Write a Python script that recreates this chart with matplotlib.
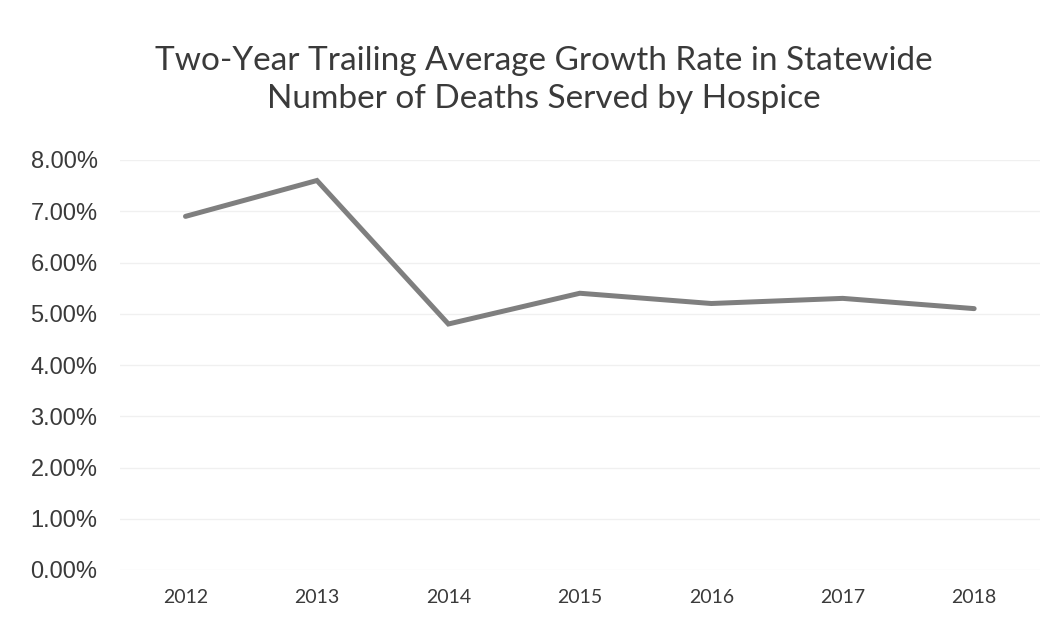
import matplotlib
matplotlib.use("Agg")
import matplotlib.pyplot as plt
from matplotlib.ticker import PercentFormatter

# --------- Дані ---------
years = ["2012", "2013", "2014", "2015", "2016", "2017", "2018"]
growth = [6.9, 7.6, 4.8, 5.4, 5.2, 5.3, 5.1]
y_ticks = [0, 1, 2, 3, 4, 5, 6, 7, 8]

fig = plt.figure(figsize=(10.6, 6.25), dpi=100)
ax = fig.add_axes([0.113, 0.088, 0.868, 0.656])

x = list(range(len(years)))
ax.plot(x, growth, color="#7f7f7f", linewidth=3.6, solid_capstyle="round", solid_joinstyle="miter")

ax.set_xlim(-0.5, len(years) - 0.5)
ax.set_ylim(0, 8)
ax.set_yticks(y_ticks)
ax.yaxis.set_major_formatter(PercentFormatter(decimals=2))
ax.set_xticks(x)
ax.set_xticklabels(years, fontsize=14, family="Lato", color="#3a3a3a")
for lab in ax.get_yticklabels():
    lab.set_fontsize(17)
    lab.set_family("Liberation Sans")
    lab.set_color("#3a3a3a")

ax.grid(axis="y", color="#f0f0f0", linewidth=1)
ax.set_axisbelow(True)
for s in ax.spines.values():
    s.set_visible(False)
ax.tick_params(axis="y", length=0, pad=16)
ax.tick_params(axis="x", length=0, pad=14)

fig.text(0.513, 0.872, "Two-Year Trailing Average Growth Rate in Statewide\nNumber of Deaths Served by Hospice",
         ha="center", va="center", fontsize=24, family="Lato", color="#3a3a3a", linespacing=1.3)

fig.savefig("out.png", dpi=100)
